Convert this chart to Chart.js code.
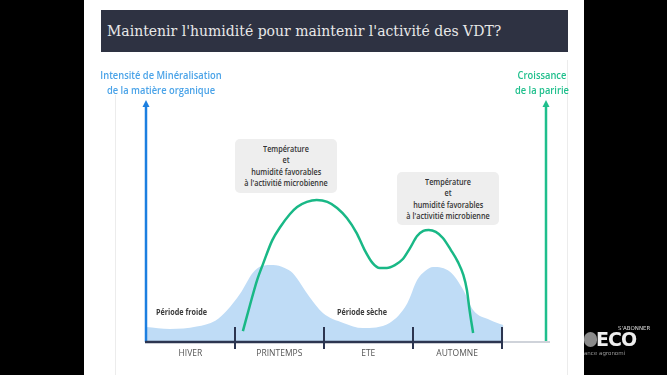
<!DOCTYPE html>
<html lang="fr">
<head>
  <meta charset="UTF-8">
  <title>Maintenir l'humidité pour maintenir l'activité des VDT?</title>
  <script src="https://cdn.jsdelivr.net/npm/chart.js"></script>
  <style>
    html, body { margin: 0; padding: 0; width: 667px; height: 375px; overflow: hidden; background: #000; }
    .abs { position: absolute; }
    #slide { left: 84px; top: 0; width: 500px; height: 375px; background: #fff; }
    .faint { width: 1px; background: #ececec; }
    #titlebar { left: 101px; top: 10px; width: 467px; height: 42px; background: #2e3242;
      color: #e8e8e8; font-family: "DejaVu Serif", serif; font-size: 14px; line-height: 42px;
      padding-left: 6px; box-sizing: border-box; white-space: nowrap; }
    #chartBox { left: 0; top: 0; }
    .axisLabel { font-family: "Open Sans", sans-serif; font-weight: 600; font-size: 11px; line-height: 15px;
      text-align: center; white-space: nowrap; transform: scaleX(0.85); }
    .note { background: #eeeeee; border-radius: 5px; font-family: "Open Sans", sans-serif; font-weight: 600;
      font-size: 8.5px; line-height: 11.3px; color: #333; text-align: center; box-sizing: border-box; padding-top: 4px; }
    .note span { display: inline-block; transform: scaleX(0.85); white-space: nowrap; }
    .period { font-family: "Open Sans", sans-serif; font-weight: 700; font-size: 8.5px; color: #3a3a3a;
      white-space: nowrap; transform: scaleX(0.85); transform-origin: left center; }
  </style>
</head>
<body>
  <div id="slide" class="abs"></div>
  <div class="abs faint" style="left:115px; top:95px; height:280px;"></div>
  <div class="abs faint" style="left:567px; top:60px; height:315px;"></div>
  <div id="titlebar" class="abs">Maintenir l'humidité pour maintenir l'activité des VDT?</div>

  <canvas id="chartBox" class="abs" width="667" height="375"></canvas>

  <div class="abs axisLabel" style="left:81px; width:160px; top:67px; color:#4aa3e8;">Intensité de Minéralisation<br>de la matière organique</div>
  <div class="abs axisLabel" style="left:492px; width:100px; top:67px; color:#1fbf8c;">Croissance<br>de la paririe</div>

  <div class="abs note" style="left:235px; top:139px; width:102px; height:54px;">
    <span>Température</span><br><span>et</span><br><span>humidité favorables</span><br><span>à l'activitié microbienne</span>
  </div>
  <div class="abs note" style="left:397px; top:172px; width:102px; height:53px;">
    <span>Température</span><br><span>et</span><br><span>humidité favorables</span><br><span>à l'activitié microbienne</span>
  </div>

  <div class="abs period" style="left:156px; top:306px;">Période froide</div>
  <div class="abs period" style="left:337px; top:306px;">Période sèche</div>

  <!-- logo en bas à droite -->
  <div class="abs" style="left:584px; top:332px; width:13px; height:15px; border-radius:7px; background:#8a8a8a;"></div>
  <div class="abs" style="left:596px; top:328px; font:bold 19px 'DejaVu Sans', sans-serif; color:#eee; letter-spacing:-1px;">ECO</div>
  <div class="abs" style="left:618px; top:325px; font:5.5px 'DejaVu Sans', sans-serif; color:#ddd;">S'ABONNER</div>
  <div class="abs" style="left:584px; top:350px; font:5.5px 'DejaVu Sans', sans-serif; color:#999;">ance agronomi</div>

  <script>
    // saisons (axe X en unités "saison")
    const seasons = ['HIVER', 'PRINTEMPS', 'ETE', 'AUTOMNE'];
    const seasonCenters = [0.5, 1.5, 2.5, 3.5];
    const seasonBounds = [1, 2, 3, 4];

    // Intensité de minéralisation (zone bleue)
    const mineralX = [0, 0.27, 0.57, 0.78, 0.91, 1.06, 1.2, 1.3, 1.43, 1.56, 1.65, 1.84, 1.99, 2.22, 2.44, 2.74, 2.94, 3.05, 3.14, 3.23, 3.42, 3.57, 3.68, 3.87, 4.02];
    const mineralY = [6.2, 5.4, 6.4, 8.8, 13, 20, 28.5, 31.4, 31.8, 30.6, 28.5, 18.6, 12, 7.9, 5.8, 7.9, 16, 25.6, 29.3, 31, 29, 21.5, 13.2, 9.1, 7];

    // Croissance de la prairie (courbe verte)
    const prairieX = [1.09, 1.17, 1.25, 1.32, 1.42, 1.51, 1.62, 1.7, 1.81, 1.92, 2.04, 2.15, 2.26, 2.37, 2.46, 2.55, 2.63, 2.71, 2.8, 2.89, 2.97, 3.05, 3.12, 3.18, 3.26, 3.34, 3.43, 3.51, 3.57, 3.61, 3.64, 3.68];
    const prairieY = [4.5, 15.3, 25.6, 32.6, 42, 47.5, 52.9, 55.8, 57.9, 58.7, 57.9, 55.4, 51.2, 45, 38, 32.6, 30.6, 30.6, 31.8, 34.3, 38.8, 43.8, 45.9, 46.3, 45.5, 43, 38, 33, 27.7, 21.5, 13.2, 3.7];

    const toPoints = (xs, ys) => xs.map((x, i) => ({ x: x, y: ys[i] }));

    // dessin des axes avec flèches
    const axesPlugin = {
      id: 'axes',
      afterDatasetsDraw(chart) {
        const ctx = chart.ctx;
        const a = chart.chartArea;
        const xs = chart.scales.x;
        ctx.save();
        // axe gauche (bleu)
        ctx.strokeStyle = '#1c7fe0';
        ctx.fillStyle = '#1c7fe0';
        ctx.lineWidth = 2.5;
        ctx.beginPath();
        ctx.moveTo(a.left, a.bottom);
        ctx.lineTo(a.left, a.top + 4);
        ctx.stroke();
        ctx.beginPath();
        ctx.moveTo(a.left - 3.5, a.top + 7);
        ctx.lineTo(a.left, a.top);
        ctx.lineTo(a.left + 3.5, a.top + 7);
        ctx.closePath();
        ctx.fill();
        // axe droit (vert)
        ctx.strokeStyle = '#1fbf8c';
        ctx.fillStyle = '#1fbf8c';
        ctx.beginPath();
        ctx.moveTo(a.right, a.bottom);
        ctx.lineTo(a.right, a.top + 4);
        ctx.stroke();
        ctx.beginPath();
        ctx.moveTo(a.right - 3.5, a.top + 7);
        ctx.lineTo(a.right, a.top);
        ctx.lineTo(a.right + 3.5, a.top + 7);
        ctx.closePath();
        ctx.fill();
        // axe X
        const xEnd = xs.getPixelForValue(seasonBounds[seasonBounds.length - 1]);
        ctx.strokeStyle = '#cfd3da';
        ctx.lineWidth = 2;
        ctx.beginPath();
        ctx.moveTo(xEnd, a.bottom);
        ctx.lineTo(a.right + 4, a.bottom);
        ctx.stroke();
        ctx.strokeStyle = '#2c3550';
        ctx.lineWidth = 2.5;
        ctx.beginPath();
        ctx.moveTo(a.left - 1, a.bottom);
        ctx.lineTo(xEnd, a.bottom);
        ctx.stroke();
        // séparations des saisons
        ctx.lineWidth = 2;
        seasonBounds.forEach(v => {
          const px = Math.round(xs.getPixelForValue(v));
          ctx.beginPath();
          ctx.moveTo(px, a.bottom - 15);
          ctx.lineTo(px, a.bottom + 7);
          ctx.stroke();
        });
        ctx.restore();
      }
    };

    new Chart(document.getElementById('chartBox').getContext('2d'), {
      type: 'line',
      data: {
        datasets: [
          {
            label: 'Croissance de la paririe',
            data: toPoints(prairieX, prairieY),
            fill: false,
            borderColor: '#19b886',
            borderWidth: 2.5,
            pointRadius: 0,
            cubicInterpolationMode: 'monotone',
            order: 0
          },
          {
            label: 'Intensité de Minéralisation de la matière organique',
            data: toPoints(mineralX, mineralY),
            fill: 'origin',
            backgroundColor: '#bfdcf6',
            borderWidth: 0,
            pointRadius: 0,
            cubicInterpolationMode: 'monotone',
            order: 1
          }
        ]
      },
      options: {
        responsive: false,
        animation: false,
        layout: { padding: { left: 146, right: 121, top: 100, bottom: 0 } },
        plugins: { legend: { display: false }, tooltip: { enabled: false } },
        scales: {
          x: {
            type: 'linear',
            min: 0,
            max: 4.5,
            afterBuildTicks: s => { s.ticks = seasonCenters.map(v => ({ value: v })); },
            afterFit: s => { s.height = 33; },
            grid: { display: false, drawTicks: false },
            border: { display: false },
            ticks: {
              padding: 6,
              maxRotation: 0,
              autoSkip: false,
              color: '#555',
              font: { family: 'Open Sans', size: 8.5 },
              callback: (v, i) => seasons[i]
            }
          },
          y: { min: 0, max: 100, display: false }
        }
      },
      plugins: [axesPlugin]
    });
  </script>
</body>
</html>
